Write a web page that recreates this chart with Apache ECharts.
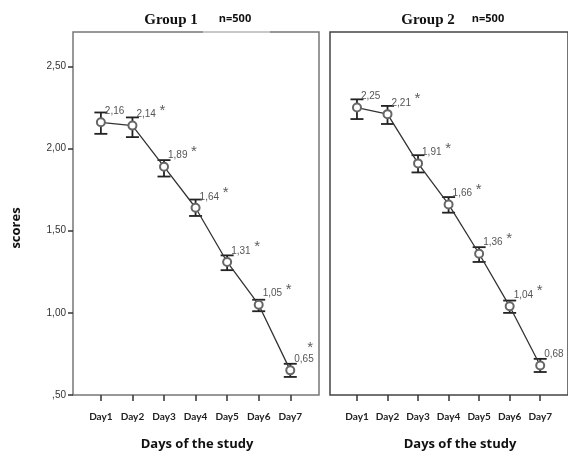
<!DOCTYPE html>
<html>
<head>
<meta charset="utf-8">
<script src="https://cdn.jsdelivr.net/npm/echarts@6/dist/echarts.min.js"></script>
<style>
  html, body { margin: 0; padding: 0; background: #fff; }
  #main { width: 568px; height: 451px; }
</style>
</head>
<body>
<div id="main"></div>
<script>
var days = ['Day1', 'Day2', 'Day3', 'Day4', 'Day5', 'Day6', 'Day7'];
var yTicks = [0.5, 1, 1.5, 2, 2.5];

// group 1 : means and error bar ends
var g1Mean = [2.16, 2.14, 1.89, 1.64, 1.31, 1.05, 0.65];
var g1Low = [2.09, 2.07, 1.83, 1.59, 1.26, 1.01, 0.61];
var g1High = [2.22, 2.19, 1.93, 1.69, 1.35, 1.08, 0.69];
var g1Star = [0, 1, 1, 1, 1, 1, 1];

// group 2 (last star is not visible in the picture)
var g2Mean = [2.25, 2.21, 1.91, 1.66, 1.36, 1.04, 0.68];
var g2Low = [2.18, 2.15, 1.855, 1.61, 1.31, 1.00, 0.64];
var g2High = [2.30, 2.26, 1.96, 1.705, 1.40, 1.075, 0.72];
var g2Star = [0, 1, 1, 1, 1, 1, 0];

function comma(v) {
    return v.toFixed(2).replace('.', ',');
}

function xAxisFor(idx) {
    return {
        type: 'value',
        gridIndex: idx,
        min: 0.117,
        max: 7.91,
        axisLine: { show: false },
        splitLine: { show: false },
        axisTick: {
            show: true,
            customValues: [1, 2, 3, 4, 5, 6, 7],
            length: 6,
            lineStyle: { color: '#333', width: 1.5 }
        },
        axisLabel: {
            customValues: [1, 2, 3, 4, 5, 6, 7],
            formatter: function (v) { return days[Math.round(v) - 1]; },
            margin: 17,
            fontFamily: 'Lato',
            fontWeight: 'bold',
            fontSize: 10,
            color: '#222'
        }
    };
}

function yAxisFor(idx) {
    return {
        type: 'value',
        gridIndex: idx,
        min: 0.5,
        max: 2.71,
        interval: 0.5,
        axisLine: { show: false },
        splitLine: { show: false },
        axisTick: {
            show: idx === 0,
            customValues: yTicks,
            length: 5,
            lineStyle: { color: '#333', width: 1.5 }
        },
        axisLabel: {
            show: idx === 0,
            customValues: yTicks,
            formatter: function (v) {
                var s = comma(v);
                return s.charAt(0) === '0' ? s.slice(1) : s;
            },
            margin: 7,
            fontFamily: 'Liberation Sans',
            fontSize: 10,
            color: '#333'
        }
    };
}

function pairs(mean) {
    return mean.map(function (v, i) { return [i + 1, v]; });
}

function seriesFor(idx, mean, low, high, star) {
    var bars = mean.map(function (v, i) { return [i + 1, low[i], high[i]]; });
    var last = mean.length - 1;
    var stars = [];
    mean.forEach(function (v, i) {
        if (!star[i]) return;
        // the last star sits above its label instead of beside it
        stars.push(i === last
            ? { value: [i + 1, v], label: { offset: [20, -23] } }
            : [i + 1, v]);
    });
    return [
        {
            type: 'line',
            xAxisIndex: idx,
            yAxisIndex: idx,
            data: pairs(mean),
            symbol: 'emptyCircle',
            symbolSize: 8,
            lineStyle: { color: '#333', width: 1.3 },
            itemStyle: { color: '#666', borderWidth: 1 },
            label: {
                show: true,
                position: 'top',
                align: 'left',
                distance: 1,
                offset: [4, 0],
                formatter: function (p) { return comma(p.value[1]); },
                fontFamily: 'Liberation Sans',
                fontSize: 10,
                color: '#555'
            },
            z: 3
        },
        {
            type: 'custom',
            xAxisIndex: idx,
            yAxisIndex: idx,
            data: bars,
            renderItem: function (params, api) {
                var top = api.coord([api.value(0), api.value(2)]);
                var bot = api.coord([api.value(0), api.value(1)]);
                var hw = 6.5;
                var st = { stroke: '#222', lineWidth: 1.8 };
                return {
                    type: 'group',
                    children: [
                        { type: 'line', shape: { x1: top[0], y1: top[1], x2: bot[0], y2: bot[1] }, style: st },
                        { type: 'line', shape: { x1: top[0] - hw, y1: top[1], x2: top[0] + hw, y2: top[1] }, style: st },
                        { type: 'line', shape: { x1: bot[0] - hw, y1: bot[1], x2: bot[0] + hw, y2: bot[1] }, style: st }
                    ]
                };
            },
            z: 2
        },
        {
            type: 'scatter',
            xAxisIndex: idx,
            yAxisIndex: idx,
            data: stars,
            symbolSize: 0,
            silent: true,
            label: {
                show: true,
                position: 'inside',
                offset: [30, -15],
                formatter: '*',
                fontFamily: 'Liberation Sans',
                fontSize: 15,
                color: '#333'
            }
        }
    ];
}

var option = {
    animation: false,
    backgroundColor: '#fff',
    grid: [
        { left: 73, top: 32, width: 246, height: 363, show: true, borderColor: '#777', borderWidth: 1.5, backgroundColor: 'transparent' },
        { left: 330, top: 32, width: 247, height: 363, show: true, borderColor: '#444', borderWidth: 1.5, backgroundColor: 'transparent' }
    ],
    xAxis: [xAxisFor(0), xAxisFor(1)],
    yAxis: [yAxisFor(0), yAxisFor(1)],
    series: seriesFor(0, g1Mean, g1Low, g1High, g1Star)
        .concat(seriesFor(1, g2Mean, g2Low, g2High, g2Star)),
    graphic: [
        { type: 'line', shape: { x1: 203, y1: 32, x2: 270, y2: 32 }, style: { stroke: '#c8c8c8', lineWidth: 2 }, z: 10 },
        { type: 'text', x: 171, y: 20, style: { text: 'Group 1', font: 'bold 15px "Liberation Serif"', fill: '#111', align: 'center', verticalAlign: 'middle' } },
        { type: 'text', x: 235, y: 19, style: { text: 'n=500', font: 'bold 11px "Open Sans"', fill: '#111', align: 'center', verticalAlign: 'middle' } },
        { type: 'text', x: 428, y: 20, style: { text: 'Group 2', font: 'bold 15px "Liberation Serif"', fill: '#111', align: 'center', verticalAlign: 'middle' } },
        { type: 'text', x: 488, y: 19, style: { text: 'n=500', font: 'bold 11px "Open Sans"', fill: '#111', align: 'center', verticalAlign: 'middle' } },
        { type: 'text', x: 197, y: 444, style: { text: 'Days of the study', font: 'bold 13px "Open Sans"', fill: '#111', align: 'center', verticalAlign: 'middle' } },
        { type: 'text', x: 460, y: 444, style: { text: 'Days of the study', font: 'bold 13px "Open Sans"', fill: '#111', align: 'center', verticalAlign: 'middle' } },
        { type: 'text', x: 16, y: 228, rotation: Math.PI / 2, style: { text: 'scores', font: 'bold 13px "Open Sans"', fill: '#111', align: 'center', verticalAlign: 'middle' } }
    ]
};

var myChart = echarts.init(document.getElementById('main'));
myChart.setOption(option);
</script>
</body>
</html>
